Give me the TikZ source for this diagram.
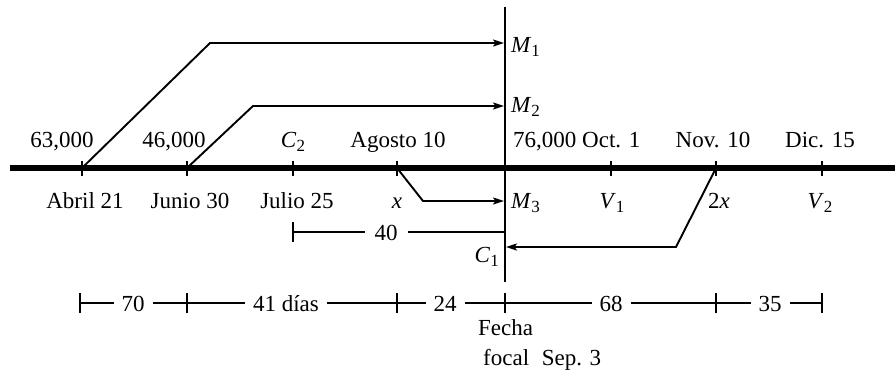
\documentclass[tikz,border=0pt]{standalone}
\usepackage{fontspec}
\setmainfont{Liberation Serif}
\usetikzlibrary{arrows.meta}
\newcommand\lbl[2]{\textit{#1}\raisebox{-0.45ex}{\fontsize{17}{17}\selectfont #2}}
\begin{document}
\begin{tikzpicture}[x=1pt,y=-1pt,
  every node/.style={font=\fontsize{23}{27}\selectfont, inner sep=0pt},
  thinline/.style={line width=1.9pt},
  axisline/.style={line width=6pt},
  arr/.style={line width=1.9pt, -{Stealth[length=11pt,width=7pt,inset=2.5pt]}},
  lab/.style={anchor=base},
  dimlab/.style={anchor=base, fill=white, inner xsep=8pt, inner ysep=3pt}]
\useasboundingbox (0,0) rectangle (895,370);

% axis points
\coordinate (a0) at (10,168);
\coordinate (a1) at (82,168);
\coordinate (a2) at (187,168);
\coordinate (a3) at (293,168);
\coordinate (a4) at (397,168);
\coordinate (a5) at (505,168);
\coordinate (a6) at (611,168);
\coordinate (a7) at (716,168);
\coordinate (a8) at (822,168);
\coordinate (a9) at (895,168);

% focal vertical line
\coordinate (vtop) at (505,7);
\coordinate (vbot) at (505,282);
\draw[thinline] (vtop) -- (vbot);

% main axis
\draw[axisline] (a0) -- (a9);
\foreach \p in {a1,a2,a3,a4,a6,a7,a8}
  \draw[thinline] ([yshift=7pt]\p) -- ([yshift=-8pt]\p);

% arrows
\coordinate (k1) at (210,43);
\coordinate (m1) at (504,43);
\coordinate (k2) at (253,106);
\coordinate (m2) at (504,106);
\coordinate (k3) at (423,201);
\coordinate (m3) at (504,201);
\coordinate (k4) at (676,247);
\coordinate (c1) at (506,247);
\draw[arr] (a1) -- (k1) -- (m1);
\draw[arr] (a2) -- (k2) -- (m2);
\draw[arr] (a4) -- (k3) -- (m3);
\draw[arr] (a7) -- (k4) -- (c1);

% labels on the focal line
\node[anchor=base west] (lm1) at (511,52) {\lbl{M}{1}};
\node[anchor=base west] (lm2) at (511,112) {\lbl{M}{2}};
\node[anchor=base west] (lm3) at (511,208) {\lbl{M}{3}};
\node[anchor=base east] (lc1) at (499,262) {\lbl{C}{1}};

% labels above axis
\node[lab] (t1) at (62,147) {63,000};
\node[lab] (t2) at (174,147) {46,000};
\node[lab] (t3) at (293,147) {\lbl{C}{2}};
\node[lab] (t4) at (398,147) {Agosto 10};
\node[anchor=base west] (t5) at (513,147) {76,000 Oct. 1};
\node[lab] (t7) at (713,147) {Nov. 10};
\node[lab] (t8) at (820,147) {Dic. 15};

% labels below axis
\node[lab] (b1) at (85,208) {Abril 21};
\node[lab] (b2) at (190,208) {Junio 30};
\node[lab] (b3) at (297,208) {Julio 25};
\node[lab] (b4) at (397,208) {\textit{x}};
\node[lab] (b6) at (612,208) {\lbl{V}{1}};
\node[lab] (b7) at (719,208) {2\textit{x}};
\node[lab] (b8) at (820,208) {\lbl{V}{2}};

% 40-day bracket
\coordinate (f0) at (293,232);
\coordinate (f1) at (505,232);
\draw[thinline] (f0) -- (f1);
\draw[thinline] ([yshift=10pt]f0) -- ([yshift=-10pt]f0);
\node[dimlab, inner xsep=10pt] (l40) at (386,240) {40};

% bottom dimension line
\coordinate (d0) at (80,303);
\coordinate (d1) at (187,303);
\coordinate (d2) at (397,303);
\coordinate (d3) at (505,303);
\coordinate (d4) at (716,303);
\coordinate (d5) at (822,303);
\draw[thinline] (d0) -- (d5);
\foreach \p in {d0,d1,d2,d3,d4,d5}
  \draw[thinline] ([yshift=10pt]\p) -- ([yshift=-10pt]\p);
\node[dimlab] (l70) at (133,311) {70};
\node[dimlab] (l41) at (286,311) {41 días};
\node[dimlab] (l24) at (445,311) {24};
\node[dimlab] (l68) at (611,311) {68};
\node[dimlab] (l35) at (770,311) {35};

% focal date
\node[anchor=base west] (ff1) at (478,335) {Fecha};
\node[anchor=base west] (ff2) at (483,365) {focal\hspace{0.3em} Sep. 3};
\end{tikzpicture}
\end{document}
